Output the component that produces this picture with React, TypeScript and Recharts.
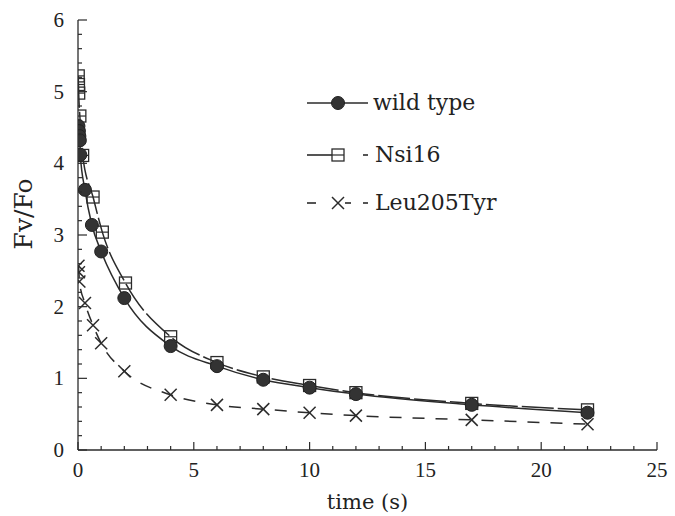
import React from "react";
import { Label, Line, LineChart, XAxis, YAxis } from "recharts";

// time (s) and Fv/Fo
const wildTypeTime = [0.02, 0.04, 0.06, 0.08, 0.1, 0.3, 0.6, 1, 2, 4, 6, 8, 10, 12, 17, 22];
const wildTypeFvFo = [4.52, 4.45, 4.38, 4.32, 4.12, 3.63, 3.14, 2.77, 2.12, 1.45, 1.17, 0.98, 0.87, 0.78, 0.63, 0.52];

const nsi16Time = [0.01, 0.02, 0.03, 0.08, 0.2, 0.65, 1.05, 2.05, 4, 6, 8, 10, 12, 17, 22];
const nsi16FvFo = [5.22, 5.1, 4.98, 4.66, 4.11, 3.53, 3.04, 2.33, 1.58, 1.22, 1.02, 0.9, 0.8, 0.65, 0.56];

const leuTime = [0.02, 0.04, 0.06, 0.3, 0.65, 1, 2, 4, 6, 8, 10, 12, 17, 22];
const leuFvFo = [2.57, 2.48, 2.35, 2.05, 1.74, 1.49, 1.1, 0.77, 0.63, 0.57, 0.52, 0.48, 0.42, 0.36];

const xTicks = [0, 1, 2, 3, 4, 5, 6, 7, 8, 9, 10, 11, 12, 13, 14, 15, 16, 17, 18, 19, 20, 21, 22, 23, 24, 25];
const yTicks = [
  0, 0.2, 0.4, 0.6, 0.8, 1, 1.2, 1.4, 1.6, 1.8, 2, 2.2, 2.4, 2.6, 2.8, 3, 3.2, 3.4, 3.6, 3.8, 4, 4.2, 4.4, 4.6,
  4.8, 5, 5.2, 5.4, 5.6, 5.8, 6,
];

const toRows = (t: number[], v: number[]) => t.map((x, i) => ({ t: x, v: v[i] }));
const wildTypeData = toRows(wildTypeTime, wildTypeFvFo);
const nsi16Data = toRows(nsi16Time, nsi16FvFo);
const leuData = toRows(leuTime, leuFvFo);

const INK = "#2b2b2b";
const NUM_FONT = "'Liberation Serif', serif";
const TEXT_FONT = "'DejaVu Serif', serif";

const isMajor = (v: number, step: number) => Math.abs(v / step - Math.round(v / step)) < 1e-6;

const XTick = ({ x, y, payload }: any) => {
  const major = isMajor(payload.value, 5);
  return (
    <g>
      <line x1={x} x2={x} y1={y} y2={y - (major ? 8 : 4)} stroke={INK} strokeWidth={1.2} />
      {major && (
        <text x={x} y={y + 27} textAnchor="middle" fontFamily={NUM_FONT} fontSize={21} fill="#222">
          {payload.value}
        </text>
      )}
    </g>
  );
};

const YTick = ({ x, y, payload }: any) => {
  const major = isMajor(payload.value, 1);
  return (
    <g>
      <line x1={x} x2={x + (major ? 9 : 4)} y1={y} y2={y} stroke={INK} strokeWidth={1.2} />
      {major && (
        <text x={x - 14} y={y + 7} textAnchor="end" fontFamily={NUM_FONT} fontSize={21} fill="#222">
          {payload.value}
        </text>
      )}
    </g>
  );
};

const dot = (cx: number, cy: number, kind: string, key?: any) => {
  if (kind === "circle") return <circle key={key} cx={cx} cy={cy} r={6.5} fill="#333" stroke="#222" strokeWidth={1} />;
  if (kind === "square")
    return (
      <g key={key}>
        <rect x={cx - 6} y={cy - 6} width={12} height={12} fill="none" stroke={INK} strokeWidth={1.3} />
        <line x1={cx - 6} x2={cx + 6} y1={cy} y2={cy} stroke={INK} strokeWidth={1.2} />
      </g>
    );
  return (
    <g key={key}>
      <line x1={cx - 6} x2={cx + 6} y1={cy - 6} y2={cy + 6} stroke={INK} strokeWidth={1.5} />
      <line x1={cx - 6} x2={cx + 6} y1={cy + 6} y2={cy - 6} stroke={INK} strokeWidth={1.5} />
    </g>
  );
};

// legend drawn as an overlay so it does not shrink the plot area
const LegendBox = () => (
  <svg width={340} height={140} style={{ position: "absolute", left: 300, top: 85, overflow: "visible" }}>
    <g fontFamily={TEXT_FONT} fontSize={22} fill="#222">
      <line x1={7} x2={68} y1={18} y2={18} stroke={INK} strokeWidth={1.6} />
      {dot(38, 18, "circle")}
      <text x={73} y={25}>wild type</text>

      <line x1={7} x2={32} y1={70} y2={70} stroke={INK} strokeWidth={1.6} />
      {dot(38, 70, "square")}
      <line x1={63} x2={68} y1={70} y2={70} stroke={INK} strokeWidth={1.6} />
      <text x={75} y={77}>Nsi16</text>

      <line x1={7} x2={16} y1={118} y2={118} stroke={INK} strokeWidth={1.6} />
      {dot(38, 118, "cross")}
      <line x1={45} x2={51} y1={118} y2={118} stroke={INK} strokeWidth={1.6} />
      <line x1={63} x2={68} y1={118} y2={118} stroke={INK} strokeWidth={1.6} />
      <text x={75} y={125}>Leu205Tyr</text>
    </g>
  </svg>
);

export default function App() {
  return (
    <div style={{ position: "absolute", left: 0, top: 0, width: 675, height: 516, background: "#fff" }}>
      <LineChart width={675} height={516} margin={{ top: 20, right: 18, left: 0, bottom: 0 }}>
        <XAxis
          type="number"
          dataKey="t"
          domain={[0, 25]}
          ticks={xTicks}
          interval={0}
          height={66}
          tickSize={0}
          tickMargin={0}
          tickLine={false}
          tick={<XTick />}
          axisLine={{ stroke: INK, strokeWidth: 1.3 }}
          allowDataOverflow
        >
          <Label
            value="time (s)"
            position="insideBottom"
            offset={7}
            style={{ fontFamily: TEXT_FONT, fontSize: 21, fill: "#222" }}
          />
        </XAxis>
        <YAxis
          type="number"
          domain={[0, 6]}
          ticks={yTicks}
          interval={0}
          width={78}
          tickSize={0}
          tickMargin={0}
          tickLine={false}
          tick={<YTick />}
          axisLine={{ stroke: INK, strokeWidth: 1.3 }}
          allowDataOverflow
        >
          <Label
            content={() => (
              <text
                x={23}
                y={214}
                transform="rotate(-90 23 214)"
                textAnchor="middle"
                dominantBaseline="central"
                fontFamily={TEXT_FONT}
                fontSize={25}
                fill="#222"
              >
                Fv/Fo
              </text>
            )}
          />
        </YAxis>
        <Line
          data={leuData}
          dataKey="v"
          name="Leu205Tyr"
          type="monotone"
          stroke={INK}
          strokeWidth={1.5}
          strokeDasharray="12 11"
          dot={(p: any) => dot(p.cx, p.cy, "cross", p.index)}
          isAnimationActive={false}
        />
        <Line
          data={nsi16Data}
          dataKey="v"
          name="Nsi16"
          type="monotone"
          stroke={INK}
          strokeWidth={1.5}
          strokeDasharray="32 4"
          dot={(p: any) => dot(p.cx, p.cy, "square", p.index)}
          isAnimationActive={false}
        />
        <Line
          data={wildTypeData}
          dataKey="v"
          name="wild type"
          type="monotone"
          stroke={INK}
          strokeWidth={1.5}
          dot={(p: any) => dot(p.cx, p.cy, "circle", p.index)}
          isAnimationActive={false}
        />
      </LineChart>
      <LegendBox />
    </div>
  );
}
